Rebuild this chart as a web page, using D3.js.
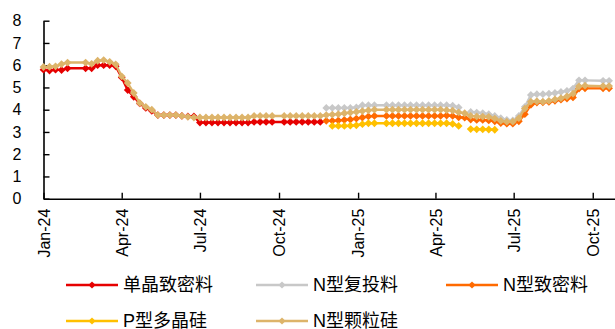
<!DOCTYPE html>
<html>
<head>
<meta charset="utf-8">
<script src="https://cdn.jsdelivr.net/npm/d3@7/dist/d3.min.js"></script>
<style>
  html, body { margin: 0; padding: 0; background: #fff; }
  svg { display: block; }
  text { font-family: "Liberation Sans", Arial, "Noto Sans CJK SC", sans-serif; fill: #000; }
</style>
</head>
<body>
<svg id="chart" width="615" height="329"></svg>
<script>
// Weekly price dates (holiday weeks without quotes are left out)
const weeks = [
  "2024-01-01","2024-01-08","2024-01-15","2024-01-22","2024-01-29",
  "2024-02-19","2024-02-26",
  "2024-03-04","2024-03-11","2024-03-18","2024-03-25",
  "2024-04-01","2024-04-08","2024-04-15","2024-04-22","2024-04-29",
  "2024-05-06","2024-05-13","2024-05-20","2024-05-27",
  "2024-06-03","2024-06-10","2024-06-17","2024-06-24",
  "2024-07-01","2024-07-08","2024-07-15","2024-07-22","2024-07-29",
  "2024-08-05","2024-08-12","2024-08-19","2024-08-26",
  "2024-09-02","2024-09-09","2024-09-16","2024-09-23",
  "2024-10-07","2024-10-14","2024-10-21","2024-10-28",
  "2024-11-04","2024-11-11","2024-11-18","2024-11-25",
  "2024-12-02","2024-12-09","2024-12-16","2024-12-23","2024-12-30",
  "2025-01-06","2025-01-13","2025-01-20",
  "2025-02-03","2025-02-10","2025-02-17","2025-02-24",
  "2025-03-03","2025-03-10","2025-03-17","2025-03-24","2025-03-31",
  "2025-04-07","2025-04-14","2025-04-21","2025-04-28",
  "2025-05-05","2025-05-12","2025-05-19","2025-05-26",
  "2025-06-02","2025-06-09","2025-06-16","2025-06-23","2025-06-30",
  "2025-07-07","2025-07-14","2025-07-21","2025-07-28",
  "2025-08-04","2025-08-11","2025-08-18","2025-08-25",
  "2025-09-01","2025-09-08","2025-09-15","2025-09-22",
  "2025-10-13","2025-10-20"
];

// Prices, 万元/吨 (null = no quote)
const monoDense = [
  5.80,5.76,5.80,5.78,5.86,5.86,5.86,6.00,6.00,6.00,5.95,5.45,4.88,4.58,4.28,4.08,
  3.95,3.76,3.76,3.76,3.76,3.72,3.70,3.70,
  3.42,3.42,3.42,3.42,3.42,3.42,3.42,3.42,3.42,
  3.45,3.45,3.45,3.45,3.45,3.45,3.45,3.45,3.45,3.45,3.45,
  null,null,null,null,null,null,null,null,null,null,null,null,null,null,null,
  null,null,null,null,null,null,null,null,null,null,null,null,null,null,null,
  null,null,null,null,null,null,null,null,null,null,null,null,null,null,null
];
const nRecharge = [
  null,null,null,null,null,null,null,null,null,null,null,
  null,null,null,null,null,null,null,null,null,null,null,
  null,null,null,null,null,null,null,null,null,null,null,
  null,null,null,null,null,null,null,null,null,null,null,
  4.08,4.08,4.08,4.08,4.08,4.10,4.20,4.20,4.20,
  4.20,4.20,4.20,4.20,4.20,4.20,4.20,4.20,4.20,4.20,4.20,
  4.18,4.10,null,3.90,3.87,3.84,3.80,3.72,3.62,3.54,3.52,
  3.72,4.13,4.66,4.70,4.70,4.72,4.75,4.80,4.85,4.95,5.32,5.32,5.30,5.30
];
const nDense = [
  null,null,null,null,null,null,null,null,null,null,null,
  null,null,null,null,null,null,null,null,null,null,null,
  null,null,null,null,null,null,null,null,null,null,null,
  null,null,null,null,null,null,null,null,null,null,null,
  3.50,3.50,3.52,3.54,3.56,3.60,3.65,3.70,3.72,
  3.72,3.72,3.72,3.72,3.72,3.72,3.72,3.72,3.72,3.72,3.74,
  3.72,3.66,3.64,3.56,3.54,3.54,3.52,3.48,3.40,3.37,3.37,
  3.48,3.80,4.22,4.32,4.33,4.35,4.40,4.45,4.50,4.55,4.95,4.96,4.96,4.96
];
const pPoly = [
  null,null,null,null,null,null,null,null,null,null,null,
  null,null,null,null,null,null,null,null,null,null,null,
  null,null,null,null,null,null,null,null,null,null,null,
  null,null,null,null,null,null,null,null,null,null,null,
  null,3.27,3.27,3.27,3.28,3.30,3.35,3.39,3.39,
  3.39,3.39,3.39,3.39,3.39,3.39,3.39,3.39,3.39,3.39,3.39,
  3.36,3.27,null,3.13,3.12,3.12,3.11,3.10,null,null,null,
  null,null,null,null,null,null,null,null,null,null,null,null,null,null
];
const nGranular = [
  5.92,5.93,5.95,6.05,6.12,6.12,6.06,6.20,6.23,6.15,6.04,5.50,5.20,4.75,4.30,4.13,
  4.00,3.76,3.76,3.76,3.76,3.72,3.68,3.65,
  3.65,3.65,3.65,3.65,3.65,3.65,3.65,3.65,3.65,
  3.72,3.72,3.72,3.72,3.72,3.72,3.72,3.72,3.72,3.72,3.72,
  3.76,3.78,3.80,3.84,3.87,3.90,3.94,3.97,4.00,
  4.00,4.00,4.00,4.00,4.00,4.00,4.00,4.00,4.00,4.00,3.98,
  3.96,3.88,3.84,3.72,3.70,3.69,3.68,3.60,3.50,3.46,3.46,
  3.62,4.05,4.36,4.38,4.36,4.40,4.46,4.52,4.60,4.72,5.05,5.08,5.06,5.06
];

const seriesNames = ["单晶致密料", "N型复投料", "N型致密料", "P型多晶硅", "N型颗粒硅"];
const seriesColors = ["#e60000", "#c8c8c8", "#ff6a00", "#ffc000", "#ddb46a"];
const seriesValues = [monoDense, nRecharge, nDense, pPoly, nGranular];

const yTicks = [0, 1, 2, 3, 4, 5, 6, 7, 8];
const xTickDates = ["2024-01-01","2024-04-01","2024-07-01","2024-10-01",
                    "2025-01-01","2025-04-01","2025-07-01","2025-10-01"];

const parse = d3.timeParse("%Y-%m-%d");
const svg = d3.select("#chart");

const x = d3.scaleTime()
  .domain([parse("2024-01-01"), parse("2025-11-01")])
  .range([43.5, 619.4]);
const y = d3.scaleLinear().domain([0, 8]).range([198.7, 20.7]);

// Axes
const xAxis = d3.axisBottom(x)
  .tickValues(xTickDates.map(parse))
  .tickFormat(d3.timeFormat("%b-%y"))
  .tickSizeInner(-6)
  .tickSizeOuter(0);
const gx = svg.append("g").attr("transform", `translate(0,${y(0)})`).call(xAxis);
gx.selectAll("text")
  .attr("transform", "rotate(-90)")
  .attr("x", -10)
  .attr("y", 0)
  .attr("dy", "0.36em")
  .style("text-anchor", "end")
  .style("font-size", "16px");

const yAxis = d3.axisLeft(y)
  .tickValues(yTicks)
  .tickFormat(d3.format("d"))
  .tickSizeInner(-6)
  .tickSizeOuter(0)
  .tickPadding(22);
const gy = svg.append("g").attr("transform", `translate(${x.range()[0]},0)`).call(yAxis);
gy.selectAll("text").style("font-size", "16px");

[gx, gy].forEach(g => {
  g.select(".domain").attr("stroke", "#000").attr("stroke-width", 1.6);
  g.selectAll(".tick line").attr("stroke", "#000").attr("stroke-width", 1.4);
  g.selectAll("text").attr("fill", "#000");
});

// Diamond marker path
function diamond(r) {
  return `M0,${-r}L${r},0L0,${r}L${-r},0Z`;
}

const plot = svg.append("g");
seriesValues.forEach((vals, i) => {
  const pts = weeks.map((w, j) => ({ date: parse(w), v: vals[j] }));
  const line = d3.line()
    .defined(d => d.v != null)
    .x(d => x(d.date))
    .y(d => y(d.v));
  const g = plot.append("g");
  g.append("path")
    .datum(pts)
    .attr("d", line)
    .attr("fill", "none")
    .attr("stroke", seriesColors[i])
    .attr("stroke-width", 2.4)
    .attr("stroke-linejoin", "round");
  g.selectAll("path.mk")
    .data(pts.filter(d => d.v != null))
    .join("path")
    .attr("class", "mk")
    .attr("d", diamond(3.9))
    .attr("transform", d => `translate(${x(d.date)},${y(d.v)})`)
    .attr("fill", seriesColors[i]);
});

// Legend: three columns, two rows
const legendCols = [66, 256, 446];
const legendRows = [285, 321];
const legend = svg.append("g");
seriesNames.forEach((name, i) => {
  const lx = legendCols[i % 3];
  const ly = legendRows[Math.floor(i / 3)];
  const item = legend.append("g").attr("transform", `translate(${lx},${ly})`);
  item.append("line")
    .attr("x1", 0).attr("x2", 52).attr("y1", 0).attr("y2", 0)
    .attr("stroke", seriesColors[i]).attr("stroke-width", 2.5);
  item.append("path").attr("d", diamond(3.6))
    .attr("transform", "translate(26,0)")
    .attr("fill", seriesColors[i]);
  item.append("text")
    .attr("x", 57).attr("y", 0).attr("dy", "0.35em")
    .style("font-size", "18px")
    .text(name);
});
</script>
</body>
</html>
